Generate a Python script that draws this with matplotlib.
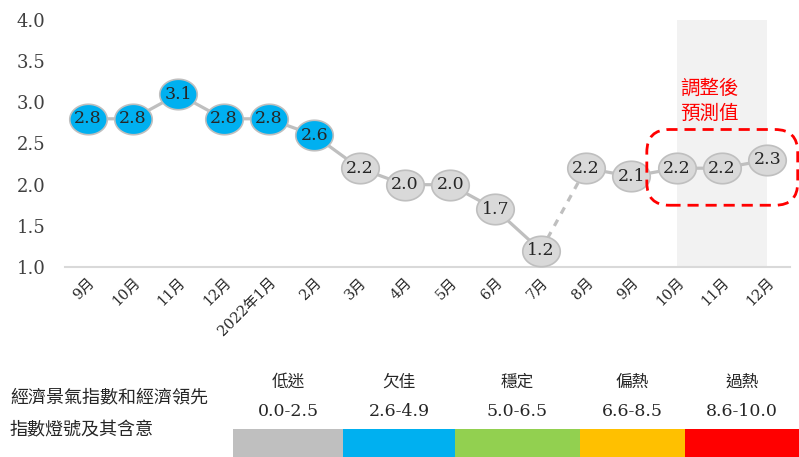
import matplotlib
matplotlib.use("Agg")
import matplotlib.pyplot as plt
import numpy as np
from matplotlib.path import Path
from matplotlib.patches import FancyBboxPatch

plt.rcParams["font.family"] = ["DejaVu Serif", "Noto Sans CJK TC"]

# data
months = ["9月", "10月", "11月", "12月", "2022年1月", "2月", "3月", "4月", "5月",
          "6月", "7月", "8月", "9月", "10月", "11月", "12月"]
values = [2.8, 2.8, 3.1, 2.8, 2.8, 2.6, 2.2, 2.0, 2.0, 1.7, 1.2, 2.2, 2.1, 2.2, 2.2, 2.3]
light_colors = ["blue"] * 6 + ["gray"] * 10
dashed_from = 10            # segment 7月 -> 8月 is dashed
forecast_start, forecast_end = 13, 15

legend_names = ["低迷", "欠佳", "穩定", "偏熱", "過熱"]
legend_ranges = ["0.0-2.5", "2.6-4.9", "5.0-6.5", "6.6-8.5", "8.6-10.0"]
legend_colors = ["#BFBFBF", "#00B0F0", "#92D050", "#FFC000", "#FF0000"]

face = {"blue": "#00B0F0", "gray": "#D9D9D9"}

fig = plt.figure(figsize=(7.99, 4.57), dpi=100)
ax = fig.add_axes([65 / 799, 1 - 267 / 457, 725 / 799, 247 / 457])

x = np.arange(len(values))
ax.axvspan(forecast_start, forecast_end, color="#F2F2F2", zorder=0, lw=0)

# connecting line
ax.plot(x[:dashed_from + 1], values[:dashed_from + 1], color="#BFBFBF", lw=2.3, zorder=1)
ax.plot(x[dashed_from:dashed_from + 2], values[dashed_from:dashed_from + 2], color="#BFBFBF",
        lw=2.3, ls=(0, (2.2, 2.2)), zorder=1)
ax.plot(x[dashed_from + 1:], values[dashed_from + 1:], color="#BFBFBF", lw=2.3, zorder=1)

# elliptical markers
t = np.linspace(0, 2 * np.pi, 60)
ellipse = Path(np.column_stack([1.23 * np.cos(t), np.sin(t)]), closed=True)
for xi, v, c in zip(x, values, light_colors):
    ax.plot(xi, v, marker=ellipse, ms=27, mfc=face[c], mec="#BFBFBF", mew=1.2,
            ls="none", zorder=3, clip_on=False)
    ax.text(xi, v, f"{v:.1f}", ha="center", va="center", fontsize=12.5,
            color="#262626", zorder=4)

# forecast annotation
aspect = (1 / 82.3) / (1 / 45.4)
box = FancyBboxPatch((12.34, 1.75), 3.33, 0.92,
                     boxstyle="round,pad=0,rounding_size=0.5", mutation_aspect=aspect,
                     fill=False, ec="#FF0000", lw=2, ls=(0, (4, 2.5)), clip_on=False, zorder=5)
ax.add_patch(box)
ax.text(13.72, 3.02, "調整後\n預測值", color="#FF0000", fontsize=14, ha="center",
        va="center", linespacing=1.3, family=["Noto Sans CJK TC"])

ax.set_xlim(-0.5, 15.5)
ax.set_ylim(1.0, 4.0)
ax.set_yticks(np.arange(1.0, 4.01, 0.5))
ax.set_yticklabels([f"{v:.1f}" for v in np.arange(1.0, 4.01, 0.5)], fontsize=13,
                   color="#404040")
ax.set_xticks(x)
ax.set_xticklabels(months, rotation=45, ha="right", rotation_mode="anchor", fontsize=10.5,
                   color="#262626")
ax.tick_params(length=0)
ax.tick_params(axis="y", pad=14)
ax.tick_params(axis="x", pad=6)
for s in ["top", "right", "left"]:
    ax.spines[s].set_visible(False)
ax.spines["bottom"].set_color("#D9D9D9")
ax.spines["bottom"].set_linewidth(1.5)

# light legend
lax = fig.add_axes([233 / 799, 0, 566 / 799, 28 / 457])
edges = [0, 110, 222, 347, 452, 566]
lefts = edges[:-1]
widths = np.diff(edges)
lax.bar(lefts, 1, width=widths, align="edge", color=legend_colors, lw=0)
for l, w, name, rng in zip(lefts, widths, legend_names, legend_ranges):
    lax.text(l + w / 2, 2.68, name, ha="center", va="center", fontsize=12, color="#262626")
    lax.text(l + w / 2, 1.61, rng, ha="center", va="center", fontsize=12.5, color="#262626")
lax.set_xlim(0, 566)
lax.set_ylim(0, 1)
lax.axis("off")

fig.text(10 / 799, 1 - 397 / 457, "經濟景氣指數和經濟領先", fontsize=13, va="center",
         color="#262626")
fig.text(10 / 799, 1 - 430 / 457, "指數燈號及其含意", fontsize=13, va="center",
         color="#262626")

fig.savefig("out.png", dpi=100)
